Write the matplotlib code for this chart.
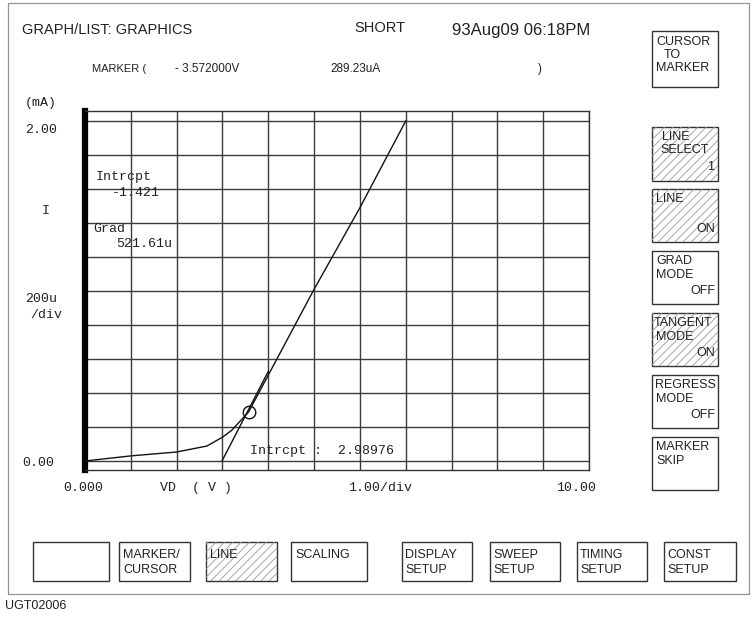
import matplotlib
matplotlib.use("Agg")
import matplotlib.pyplot as plt
from matplotlib.patches import Rectangle

# ---------------- data ----------------
vd_volts = [0.0, 1.0, 2.0, 2.66, 3.0, 3.2, 3.572, 5.0, 6.0, 7.0]
id_ma = [0.0, 0.03, 0.053, 0.088, 0.14, 0.18, 0.289, 1.01, 1.49, 2.0]
marker_v = 3.572
marker_i = 0.28923
tangent_intercept_v = 2.98976
tangent_grad_ma_per_v = 0.52161
tangent_v_end = 4.0
x_ticks = [0, 1, 2, 3, 4, 5, 6, 7, 8, 9, 10, 11]
y_ticks = [0.0, 0.2, 0.4, 0.6, 0.8, 1.0, 1.2, 1.4, 1.6, 1.8, 2.0]

W, H = 751, 617
plt.rcParams["hatch.color"] = "#9a9a9a"
plt.rcParams["hatch.linewidth"] = 0.6
fig = plt.figure(figsize=(W / 100, H / 100), dpi=100)
fig.patch.set_facecolor("white")

# overlay in pixel coordinates
ov = fig.add_axes([0, 0, 1, 1])
ov.set_xlim(0, W)
ov.set_ylim(H, 0)
ov.axis("off")

SANS = "Liberation Sans"
MONO = "Liberation Mono"
INK = "#222222"

# outer frame
ov.add_patch(Rectangle((8, 3), 741, 591, fill=False, ec="#555555", lw=0.9, ls=(0, (1, 0.6))))

# header
ov.text(22, 30, "GRAPH/LIST: GRAPHICS", family=SANS, fontsize=10.5, color=INK, va="center")
ov.text(380, 28, "SHORT", family=SANS, fontsize=10.5, color=INK, va="center", ha="center")
ov.text(452, 30, "93Aug09 06:18PM", family=SANS, fontsize=12, color=INK, va="center")
ov.text(92, 69, "MARKER (", family=SANS, fontsize=8, color=INK, va="center")
ov.text(175, 69, "- 3.572000V", family=SANS, fontsize=8.5, color=INK, va="center")
ov.text(330, 69, "289.23uA", family=SANS, fontsize=8.5, color=INK, va="center")
ov.text(538, 69, ")", family=SANS, fontsize=8.5, color=INK, va="center")

# axis side labels
mono_kw = dict(family=MONO, fontsize=9.5, color=INK, va="center")
ov.text(25, 103, "(mA)", **mono_kw)
ov.text(25, 130, "2.00", **mono_kw)
ov.text(42, 211, "I", **mono_kw)
ov.text(25, 299, "200u", **mono_kw)
ov.text(30, 315, "/div", **mono_kw)
ov.text(22, 463, "0.00", **mono_kw)
ov.text(63, 488, "0.000", **mono_kw)
ov.text(160, 488, "VD  ( V )", **mono_kw)
ov.text(348, 488, "1.00/div", **mono_kw)
ov.text(556, 488, "10.00", **mono_kw)

# ---------------- main plot ----------------
L, R, T, B = 85, 589, 111, 470
ax = fig.add_axes([L / W, 1 - B / H, (R - L) / W, (B - T) / H])
ax.set_xlim(0, 11)
ax.set_ylim(-9 / 170, 2.0 + 10 / 170)
ax.set_xticks(x_ticks)
ax.set_yticks(y_ticks)
ax.tick_params(left=False, bottom=False, labelleft=False, labelbottom=False)
ax.grid(True, color="#3c3c3c", lw=1.0, ls="-")
for s in ("top", "right", "bottom"):
    ax.spines[s].set_linewidth(1.0)
    ax.spines[s].set_color("#333333")
ax.spines["left"].set_linewidth(4.5)
ax.spines["left"].set_color("black")
ax.set_facecolor("white")

ax.plot(vd_volts, id_ma, color="#111111", lw=1.0, zorder=5)
tv = [tangent_intercept_v, tangent_v_end]
ti = [0.0, tangent_grad_ma_per_v * (tangent_v_end - tangent_intercept_v)]
ax.plot(tv, ti, color="#111111", lw=1.0, zorder=5)
ax.plot([marker_v], [marker_i], marker="o", ms=9, mfc="none", mec="#111111", mew=1.0, zorder=6)

ov.set_zorder(10)
ov.patch.set_alpha(0)
ov.text(96, 177, "Intrcpt", **mono_kw)
ov.text(112, 193, "-1.421", **mono_kw)
ov.text(93, 229, "Grad", **mono_kw)
ov.text(116, 244, "521.61u", **mono_kw)
ov.text(250, 451, "Intrcpt :  2.98976", **mono_kw)

# ---------------- side buttons ----------------
def button(x0, y0, w, h, lines, hatched=False):
    ov.add_patch(Rectangle((x0, y0), w, h, fill=False, ec="#333333", lw=1.0))
    if hatched:
        ov.add_patch(Rectangle((x0, y0), w, h, fill=False, ec="#999999", lw=0,
                               hatch="////"))
    for (txt, dx, dy, ha) in lines:
        ov.text(x0 + dx, y0 + dy, txt, family=SANS, fontsize=9, color=INK,
                va="center", ha=ha)

bx, bw = 652, 66
button(bx, 31, bw, 56, [("CURSOR", 4, 11, "left"), ("TO", 12, 24, "left"), ("MARKER", 4, 37, "left")])
button(bx, 127, bw, 54, [("LINE", 10, 10, "left"), ("SELECT", 8, 23, "left"), ("1", bw - 4, 40, "right")], hatched=True)
button(bx, 189, bw, 53, [("LINE", 4, 10, "left"), ("ON", bw - 3, 40, "right")], hatched=True)
button(bx, 251, bw, 53, [("GRAD", 4, 10, "left"), ("MODE", 4, 24, "left"), ("OFF", bw - 3, 40, "right")])
button(bx, 313, bw, 53, [("TANGENT", 2, 10, "left"), ("MODE", 4, 24, "left"), ("ON", bw - 3, 40, "right")], hatched=True)
button(bx, 375, bw, 53, [("REGRESS", 3, 10, "left"), ("MODE", 4, 24, "left"), ("OFF", bw - 3, 40, "right")])
button(bx, 437, bw, 53, [("MARKER", 4, 10, "left"), ("SKIP", 4, 24, "left")])

# bottom buttons
by, bh = 542, 39
button(33, by, 76, bh, [])
button(119, by, 71, bh, [("MARKER/", 4, 13, "left"), ("CURSOR", 4, 28, "left")])
button(206, by, 71, bh, [("LINE", 4, 13, "left")], hatched=True)
button(291, by, 76, bh, [("SCALING", 4, 13, "left")])
button(402, by, 70, bh, [("DISPLAY", 3, 13, "left"), ("SETUP", 3, 28, "left")])
button(490, by, 70, bh, [("SWEEP", 3, 13, "left"), ("SETUP", 3, 28, "left")])
button(577, by, 70, bh, [("TIMING", 3, 13, "left"), ("SETUP", 3, 28, "left")])
button(664, by, 72, bh, [("CONST", 3, 13, "left"), ("SETUP", 3, 28, "left")])

ov.text(5, 606, "UGT02006", family=SANS, fontsize=9, color=INK, va="center")

fig.savefig("out.png", dpi=100, facecolor="white")
